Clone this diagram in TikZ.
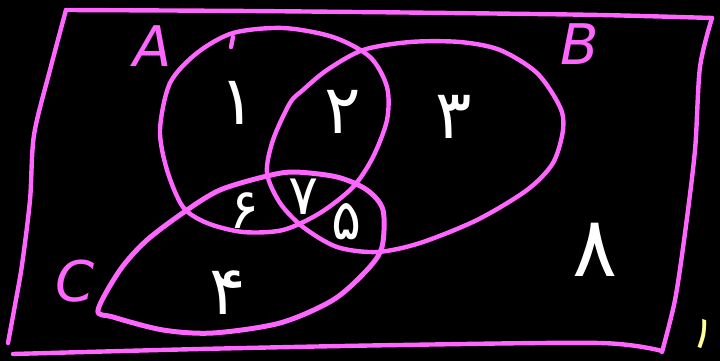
\documentclass[tikz,border=0pt]{standalone}
\usepackage{fontspec}
\usepackage{tikz}
\newfontfamily\persianfont[Script=Arabic]{DejaVu Sans}
\newfontfamily\handfont{DejaVu Sans}
\definecolor{pink}{HTML}{FF66FF}
\definecolor{paleyellow}{HTML}{FFFF99}

\begin{document}
\begin{tikzpicture}[
  x=1pt, y=-1pt,
  setline/.style={draw=pink, line width=4.4pt, line cap=round, line join=round},
  setname/.style={text=pink, inner sep=0pt,
    font=\handfont\itshape\fontsize{56}{56}\selectfont},
  digit/.style={text=white, inner sep=0pt,
    font=\persianfont\fontsize{68}{68}\selectfont},
  smalldigit/.style={digit, font=\persianfont\fontsize{56}{56}\selectfont}
]
  \useasboundingbox (0,0) rectangle (720,361);
  \fill[black] (0,0) rectangle (720,361);

  % universe
  \draw[setline] plot[smooth] coordinates {(8,343) (15,305) (22,265) (30,200)
    (34,135) (50,70) (66,10)};
  \draw[setline] plot[smooth] coordinates {(66,10) (250,11) (450,13) (600,15) (712,18)};
  \draw[setline] plot[smooth] coordinates {(712,18) (700,67) (695,150) (685,233)
    (675,300) (662,352)};
  \draw[setline] plot[smooth] coordinates {(13,354) (200,349) (400,345) (600,343) (662,351)};

  % set A
  \draw[setline] plot[smooth cycle] coordinates {(160,130) (170,83) (197,53) (233,33)
    (283,28) (333,37) (370,57) (387,87) (387,120) (373,157) (353,187) (320,213)
    (283,230) (243,232) (207,223) (183,207) (167,170)};
  \draw[setline] (233,37) -- (231,47);

  % set B
  \draw[setline] plot[smooth cycle] coordinates {(267,173) (273,140) (290,103) (303,90)
    (327,70) (363,50) (410,42) (460,42) (500,50) (537,73) (560,107) (563,130)
    (553,163) (527,190) (477,220) (420,243) (377,252) (337,247) (303,227) (280,203)};

  % set C
  \draw[setline, line width=5pt] plot[smooth cycle] coordinates {(98,310) (120,270)
    (147,240) (187,210) (220,190) (263,177) (293,172) (337,177) (367,190) (383,210)
    (382,247) (367,270) (333,300) (280,323) (213,333) (163,330) (113,317)};

  % set names
  \node[setname] (nameA) at (153,46) {A};
  \node[setname] (nameB) at (580,44) {B};
  \node[setname] (nameC) at (75,281) {C};

  % regions
  \node[digit] (onlyA) at (238,103) {۱};
  \node[digit] (AB) at (343,112) {۲};
  \node[digit] (onlyB) at (454,117) {۳};
  \node[smalldigit] (AC) at (245,211) {۶};
  \node[smalldigit] (ABC) at (304,197) {۷};
  \node[smalldigit] (BC) at (347,222) {۵};
  \node[digit] (onlyC) at (228,293) {۴};
  \node[digit, font=\persianfont\fontsize{84}{84}\selectfont] (none) at (595,250) {۸};

  \node[digit, text=paleyellow, font=\persianfont\fontsize{44}{44}\selectfont,
    rotate=-20] (mark) at (703,334) {۱};
\end{tikzpicture}
\end{document}
